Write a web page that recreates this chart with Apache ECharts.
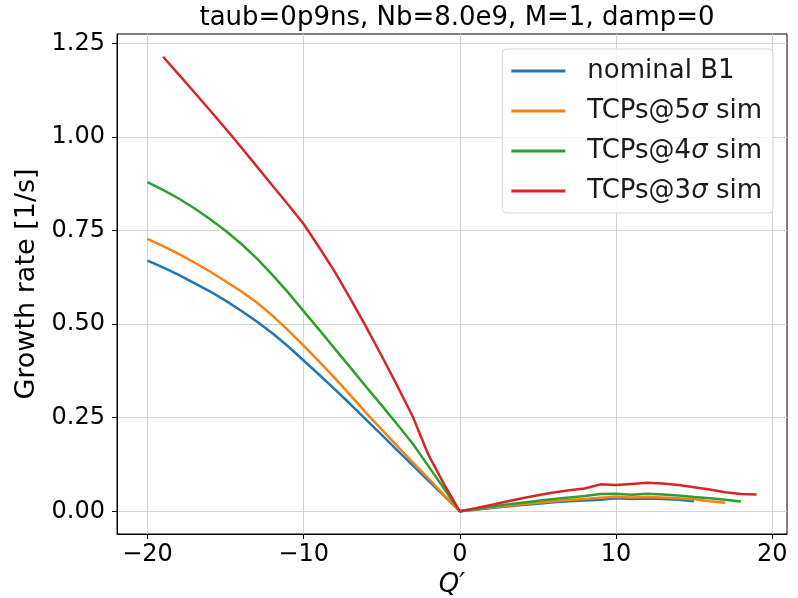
<!DOCTYPE html>
<html>
<head>
<meta charset="utf-8">
<script src="https://cdn.jsdelivr.net/npm/echarts@6/dist/echarts.min.js"></script>
<style>
  html, body { margin: 0; padding: 0; background: #fff; }
  #chart { width: 798px; height: 598px; }
</style>
</head>
<body>
<div id="chart"></div>
<script>
// Q' values per series
const qNominal = [-20, -19, -18, -17, -16, -15, -14, -13, -12, -11, -10, -9, -8, -7, -6, -5, -4, -3, -2, -1,
  0, 1, 2, 3, 4, 5, 6, 7, 8, 9, 10, 11, 12, 13, 14, 15]
const qTcp5 = [-20, -19, -18, -17, -16, -15, -14, -13, -12, -11, -10, -9, -8, -7, -6, -5, -4, -3, -2, -1,
  0, 1, 2, 3, 4, 5, 6, 7, 8, 9, 10, 11, 12, 13, 14, 15, 16, 17]
const qTcp4 = [-20, -19, -18, -17, -16, -15, -14, -13, -12, -11, -10, -9, -8, -7, -6, -5, -4, -3, -2, -1,
  0, 1, 2, 3, 4, 5, 6, 7, 8, 9, 10, 11, 12, 13, 14, 15, 16, 17, 18]
const qTcp3 = [-19, -18, -17, -16, -15, -14, -13, -12, -11, -10, -9, -8, -7, -6, -5, -4, -3, -2, -1,
  0, 1, 2, 3, 4, 5, 6, 7, 8, 9, 10, 11, 12, 13, 14, 15, 16, 17, 18, 19]

// growth rates [1/s]
const rateNominal = [0.670, 0.652, 0.632, 0.610, 0.588, 0.563, 0.536, 0.507, 0.476, 0.441, 0.403, 0.365, 0.326, 0.286, 0.245, 0.204, 0.163, 0.122, 0.081, 0.041,
  0, 0.004, 0.009, 0.013, 0.017, 0.020, 0.024, 0.027, 0.029, 0.031, 0.035, 0.033, 0.034, 0.033, 0.031, 0.027]
const rateTcp5 = [0.728, 0.709, 0.688, 0.665, 0.641, 0.615, 0.588, 0.558, 0.523, 0.484, 0.443, 0.400, 0.356, 0.310, 0.263, 0.218, 0.174, 0.130, 0.087, 0.043,
  0, 0.005, 0.010, 0.014, 0.019, 0.023, 0.027, 0.030, 0.033, 0.036, 0.039, 0.037, 0.038, 0.037, 0.035, 0.032, 0.027, 0.023]
const rateTcp4 = [0.880, 0.859, 0.836, 0.810, 0.781, 0.750, 0.715, 0.676, 0.632, 0.585, 0.535, 0.485, 0.434, 0.384, 0.333, 0.283, 0.232, 0.180, 0.120, 0.060,
  0, 0.006, 0.012, 0.018, 0.023, 0.028, 0.033, 0.037, 0.041, 0.046, 0.047, 0.044, 0.047, 0.045, 0.042, 0.038, 0.035, 0.031, 0.026]
const rateTcp3 = [1.215, 1.168, 1.120, 1.072, 1.023, 0.973, 0.922, 0.871, 0.820, 0.768, 0.705, 0.640, 0.568, 0.493, 0.415, 0.335, 0.252, 0.150, 0.072,
  0, 0.008, 0.017, 0.026, 0.035, 0.043, 0.050, 0.056, 0.061, 0.072, 0.070, 0.073, 0.076, 0.074, 0.070, 0.064, 0.058, 0.051, 0.046, 0.045]

const xTicks = [-20, -10, 0, 10, 20]
const yTicks = [0, 0.25, 0.5, 0.75, 1.0, 1.25]

const seriesNames = ['nominal B1', 'TCPs@5σ sim', 'TCPs@4σ sim', 'TCPs@3σ sim']
const colors = ['#1f77b4', '#ff7f0e', '#2ca02c', '#d62728']

const zip = (xs, ys) => xs.map((x, i) => [x, ys[i]])
const seriesData = [
  zip(qNominal, rateNominal),
  zip(qTcp5, rateTcp5),
  zip(qTcp4, rateTcp4),
  zip(qTcp3, rateTcp3)
]

const font = 'DejaVu Sans'
const chart = echarts.init(document.getElementById('chart'))

const option = {
  animation: false,
  title: {
    text: 'taub=0p9ns, Nb=8.0e9, M=1, damp=0',
    left: 452,
    top: 0,
    textAlign: 'center',
    textStyle: { fontFamily: font, fontSize: 26, fontWeight: 'normal', color: '#000' }
  },
  grid: {
    left: 117,
    right: 11,
    top: 34,
    bottom: 64,
    outerBoundsMode: 'none',
    containLabel: false,
    show: true,
    borderColor: '#000',
    borderWidth: 1
  },
  legend: {
    orient: 'vertical',
    right: 25,
    top: 49,
    padding: [9, 11, 9, 9],
    itemGap: 14,
    itemWidth: 54,
    itemHeight: 3,
    icon: 'rect',
    borderColor: '#d6d6d6',
    borderWidth: 1,
    borderRadius: 4,
    backgroundColor: 'rgba(255,255,255,0.8)',
    data: seriesNames,
    formatter: name => name.replace('σ', '{i|σ}'),
    textStyle: {
      fontFamily: font,
      fontSize: 26,
      color: '#1a1a1a',
      padding: [0, 0, 0, 17],
      rich: {
        i: { fontFamily: font, fontSize: 26, fontStyle: 'italic', color: '#1a1a1a' }
      }
    }
  },
  xAxis: {
    type: 'value',
    min: -21.95,
    max: 20.95,
    name: 'Q′',
    nameLocation: 'middle',
    nameGap: 35,
    nameTextStyle: { fontFamily: font, fontSize: 26, fontStyle: 'italic', color: '#000' },
    axisLine: { show: true, onZero: false, lineStyle: { color: '#000' } },
    axisTick: { show: true, length: 5, customValues: xTicks, lineStyle: { color: '#000' } },
    axisLabel: {
      customValues: xTicks,
      margin: 9,
      fontFamily: font,
      fontSize: 24,
      color: '#000',
      formatter: v => (v < 0 ? '\u2212' + Math.abs(v) : String(v))
    },
    splitLine: { show: true, lineStyle: { color: '#d4d4d4', width: 1 } }
  },
  yAxis: {
    type: 'value',
    min: -0.06075,
    max: 1.27575,
    name: 'Growth rate [1/s]',
    nameLocation: 'middle',
    nameGap: 71,
    nameTextStyle: { fontFamily: font, fontSize: 27, color: '#000' },
    axisLine: { show: true, onZero: false, lineStyle: { color: '#000' } },
    axisTick: { show: true, length: 5, customValues: yTicks, lineStyle: { color: '#000' } },
    axisLabel: {
      customValues: yTicks,
      margin: 12,
      fontFamily: font,
      fontSize: 24,
      color: '#000',
      formatter: v => v.toFixed(2)
    },
    splitLine: { show: true, lineStyle: { color: '#d4d4d4', width: 1 } }
  },
  series: seriesData.map((data, i) => ({
    name: seriesNames[i],
    type: 'line',
    data: data,
    showSymbol: false,
    symbol: 'none',
    color: colors[i],
    lineStyle: { width: 2.5, color: colors[i] },
    z: 2 + i
  }))
}

chart.setOption(option)
</script>
</body>
</html>
